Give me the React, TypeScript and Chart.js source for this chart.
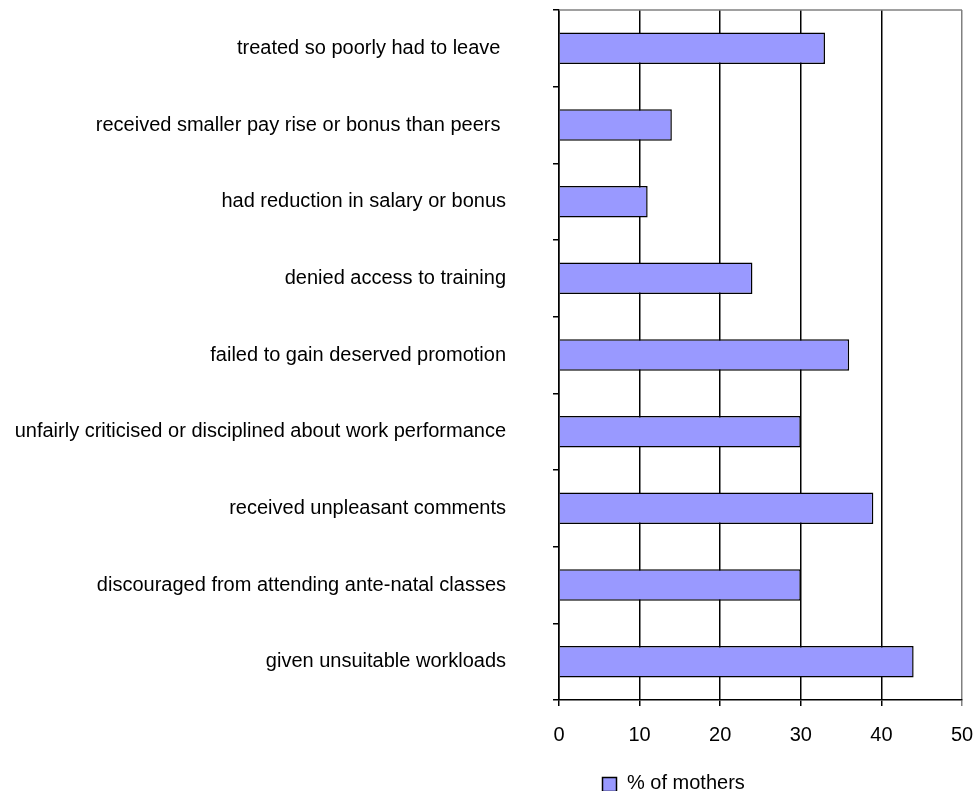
import React, { useEffect, useRef } from "react";
import { Chart, registerables } from "chart.js";

Chart.register(...registerables);

const categories: string[] = [
  "treated so poorly had to leave ",
  "received smaller pay rise or bonus than peers ",
  "had reduction in salary or bonus",
  "denied access to training",
  "failed to gain deserved promotion",
  "unfairly criticised or disciplined about work performance",
  "received unpleasant comments",
  "discouraged from attending ante-natal classes",
  "given unsuitable workloads",
];

const percentOfMothers: number[] = [33, 14, 11, 24, 36, 30, 39, 30, 44];

const seriesLabel = "% of mothers";
const xTicks: number[] = [0, 10, 20, 30, 40, 50];

const FONT = "Arial, 'Liberation Sans', sans-serif";

const frameAndLegend = {
  id: "frameAndLegend",
  afterDraw(chart: any) {
    const ctx = chart.ctx;
    const { left, right, top } = chart.chartArea;
    ctx.save();
    // top border (gray)
    ctx.strokeStyle = "#808080";
    ctx.lineWidth = 1.5;
    ctx.beginPath();
    ctx.moveTo(left, top);
    ctx.lineTo(right, top);
    ctx.stroke();
    // legend
    const ds = chart.data.datasets[0];
    const lx = 602;
    const ly = 777;
    ctx.fillStyle = ds.backgroundColor;
    ctx.fillRect(lx, ly, 15, 15);
    ctx.strokeStyle = "#000";
    ctx.lineWidth = 1.5;
    ctx.strokeRect(lx + 0.5, ly + 0.5, 14, 14);
    ctx.fillStyle = "#000";
    ctx.font = "20px " + FONT;
    ctx.textBaseline = "alphabetic";
    ctx.textAlign = "left";
    ctx.fillText(ds.label, 627, 789);
    ctx.restore();
  },
};

export default function App() {
  const canvasRef = useRef<HTMLCanvasElement | null>(null);

  useEffect(() => {
    const canvas = canvasRef.current;
    if (!canvas) return;
    const chart = new Chart(canvas, {
      type: "bar",
      data: {
        labels: categories,
        datasets: [
          {
            label: seriesLabel,
            data: percentOfMothers,
            backgroundColor: "#9999FF",
            borderColor: "#000000",
            borderWidth: 1.5,
            barPercentage: 0.41,
            categoryPercentage: 1,
          },
        ],
      },
      options: {
        indexAxis: "y",
        animation: false,
        responsive: false,
        maintainAspectRatio: false,
        layout: { padding: { top: 10, right: 15, left: 0, bottom: 0 } },
        plugins: {
          legend: { display: false },
          title: { display: false },
          tooltip: { enabled: false },
        },
        scales: {
          x: {
            type: "linear",
            min: 0,
            max: 50,
            afterBuildTicks: (scale: any) => {
              scale.ticks = xTicks.map((v) => ({ value: v }));
            },
            afterFit: (scale: any) => {
              scale.height = 91;
              scale.paddingLeft = 0;
              scale.paddingRight = 0;
              scale.paddingTop = 0;
              scale.paddingBottom = 0;
            },
            border: { display: true, color: "#000", width: 1.5 },
            grid: {
              display: true,
              drawOnChartArea: true,
              drawTicks: true,
              tickLength: 6,
              color: (c: any) => (c.tick && c.tick.value === 50 ? "#808080" : "#000"),
              lineWidth: 1.5,
            },
            ticks: {
              color: "#000",
              font: { family: FONT, size: 20 },
              padding: 17,
              maxRotation: 0,
            },
          },
          y: {
            type: "category",
            afterFit: (scale: any) => {
              scale.width = 559;
              scale.paddingLeft = 0;
              scale.paddingRight = 0;
              scale.paddingTop = 0;
              scale.paddingBottom = 0;
            },
            border: { display: true, color: "#000", width: 1.5 },
            grid: {
              display: true,
              drawOnChartArea: false,
              drawTicks: true,
              tickLength: 6,
              color: "#000",
              lineWidth: 1.5,
              offset: true,
            },
            ticks: {
              color: "#000",
              font: { family: FONT, size: 20 },
              padding: 47,
              autoSkip: false,
            },
          },
        },
      },
      plugins: [frameAndLegend],
    });
    return () => chart.destroy();
  }, []);

  return (
    <div
      style={{
        position: "absolute",
        left: 0,
        top: 0,
        width: 977,
        height: 791,
        overflow: "hidden",
        background: "#fff",
      }}
    >
      <canvas ref={canvasRef} width={977} height={791} style={{ display: "block" }} />
    </div>
  );
}
